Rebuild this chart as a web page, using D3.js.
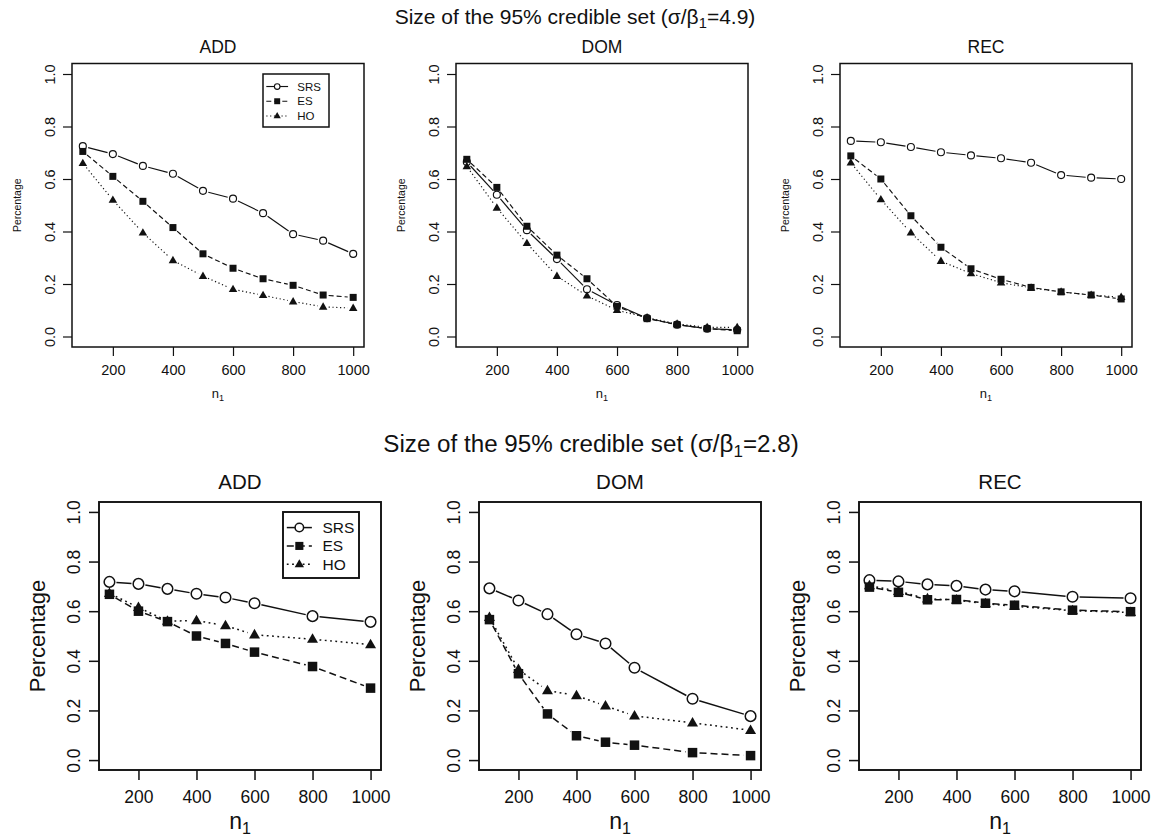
<html>
<head>
<script src="https://d3js.org/d3.v7.min.js"></script>
<style>
  body { margin:0; background:#fff; }
  text { font-family: "Liberation Sans", Arial, Helvetica, sans-serif; fill:#111; }
</style>
</head>
<body>
<svg id="plot"></svg>
<script>

// x values (n1)
var xTop = [100,200,300,400,500,600,700,800,900,1000];
var xBottom = [100,200,300,400,500,600,800,1000];

// sigma/beta1 = 4.9
var topAddSRS = [0.725,0.695,0.65,0.62,0.555,0.525,0.47,0.39,0.365,0.315];
var topAddES  = [0.705,0.61,0.515,0.415,0.315,0.26,0.22,0.195,0.158,0.149];
var topAddHO  = [0.66,0.52,0.395,0.29,0.23,0.18,0.157,0.133,0.113,0.108];

var topDomSRS = [0.665,0.54,0.405,0.295,0.18,0.12,0.07,0.045,0.03,0.025];
var topDomES  = [0.675,0.568,0.42,0.31,0.22,0.115,0.068,0.045,0.03,0.022];
var topDomHO  = [0.648,0.49,0.355,0.23,0.155,0.1,0.072,0.048,0.035,0.035];

var topRecSRS = [0.745,0.74,0.722,0.702,0.69,0.679,0.662,0.615,0.605,0.6];
var topRecES  = [0.688,0.6,0.46,0.34,0.258,0.218,0.187,0.17,0.158,0.143];
var topRecHO  = [0.662,0.522,0.395,0.287,0.24,0.205,0.185,0.17,0.158,0.15];

// sigma/beta1 = 2.8
var botAddSRS = [0.718,0.71,0.69,0.67,0.655,0.632,0.58,0.557];
var botAddES  = [0.668,0.6,0.558,0.5,0.47,0.435,0.377,0.29];
var botAddHO  = [0.672,0.615,0.56,0.562,0.542,0.505,0.487,0.465];

var botDomSRS = [0.692,0.643,0.588,0.507,0.47,0.372,0.247,0.177];
var botDomES  = [0.566,0.348,0.186,0.098,0.072,0.06,0.03,0.018];
var botDomHO  = [0.575,0.365,0.28,0.26,0.218,0.178,0.15,0.12];

var botRecSRS = [0.725,0.72,0.708,0.702,0.687,0.68,0.658,0.652];
var botRecES  = [0.697,0.676,0.646,0.647,0.632,0.624,0.604,0.598];
var botRecHO  = [0.703,0.68,0.65,0.645,0.63,0.62,0.602,0.595];

var seriesNames = ["SRS","ES","HO"];
var panelTitles = ["ADD","DOM","REC"];
var xTicks = [200,400,600,800,1000];
var yTicks = [0,0.2,0.4,0.6,0.8,1.0];

var svg = d3.select("#plot").attr("width",1153).attr("height",836);

// row styles
var rowTop = {
  label:"4.9", titleX:575, titleY:24, titleSize:21,
  tick:14.5, ylab:10.5, ptitle:17.5, xlab:13, tickLen:9,
  r:3.5, sq:7, tri:8.5, lw:1.15, boxW:1.5, gap:5.5,
  dashES:"5,3", dashHO:"1.2,2.6",
  yTickOff:17, yLabOff:51, xTickOff:28, xLabOff:51, ptitleOff:10.5,
  legendFont:11.5
};
var rowBot = {
  label:"2.8", titleX:591, titleY:452, titleSize:24.2,
  tick:17.5, ylab:22, ptitle:20.5, xlab:23, tickLen:10,
  r:5.3, sq:9.5, tri:11, lw:1.5, boxW:1.9, gap:7,
  dashES:"7,4", dashHO:"1.8,3.5",
  yTickOff:19, yLabOff:54, xTickOff:33, xLabOff:59, ptitleOff:13,
  legendFont:15.5
};

var panels = [
  {row:rowTop, title:panelTitles[0], x:xTop, ys:[topAddSRS,topAddES,topAddHO], box:[72,63.5,364,347], legend:[263,74,66,53]},
  {row:rowTop, title:panelTitles[1], x:xTop, ys:[topDomSRS,topDomES,topDomHO], box:[456,63.5,748,347]},
  {row:rowTop, title:panelTitles[2], x:xTop, ys:[topRecSRS,topRecES,topRecHO], box:[840,63.5,1132,347]},
  {row:rowBot, title:panelTitles[0], x:xBottom, ys:[botAddSRS,botAddES,botAddHO], box:[99,502,381,770], legend:[283,512,76,66]},
  {row:rowBot, title:panelTitles[1], x:xBottom, ys:[botDomSRS,botDomES,botDomHO], box:[479,502,761,770]},
  {row:rowBot, title:panelTitles[2], x:xBottom, ys:[botRecSRS,botRecES,botRecHO], box:[859,502,1141,770]}
];

// main titles
[rowTop,rowBot].forEach(function(st){
  var t = svg.append("text")
    .attr("x",st.titleX).attr("y",st.titleY)
    .attr("text-anchor","middle")
    .style("font-size",st.titleSize+"px");
  t.append("tspan").text("Size of the 95% credible set (\u03C3/\u03B2");
  t.append("tspan").text("1").style("font-size",(st.titleSize*0.7)+"px").attr("dy",st.titleSize*0.2);
  t.append("tspan").text("=" + st.label + ")").attr("dy",-st.titleSize*0.2);
});

function marker(g, type, cx, cy, st) {
  if (type === 0) {
    g.append("circle").attr("cx",cx).attr("cy",cy).attr("r",st.r)
      .attr("fill","#fff").attr("stroke","#111").attr("stroke-width",st.lw);
  } else if (type === 1) {
    g.append("rect").attr("x",cx-st.sq/2).attr("y",cy-st.sq/2)
      .attr("width",st.sq).attr("height",st.sq).attr("fill","#111");
  } else {
    var h = st.tri*0.866;
    g.append("path")
      .attr("d","M"+cx+","+(cy-h*0.62)+"L"+(cx+st.tri/2)+","+(cy+h*0.38)+"L"+(cx-st.tri/2)+","+(cy+h*0.38)+"Z")
      .attr("fill","#111");
  }
}

function dashOf(type, st) {
  if (type === 0) return null;
  if (type === 1) return st.dashES;
  return st.dashHO;
}

panels.forEach(function(p){
  var st = p.row;
  var b = p.box;
  var xScale = d3.scaleLinear().domain([64,1036]).range([b[0],b[2]]);
  var yScale = d3.scaleLinear().domain([-0.04,1.04]).range([b[3],b[1]]);
  var g = svg.append("g");

  // axes
  var xAxis = d3.axisBottom(xScale).tickValues(xTicks).tickSize(st.tickLen).tickFormat(d3.format("d"));
  var ax = g.append("g").attr("transform","translate(0,"+b[3]+")").call(xAxis);
  ax.select(".domain").remove();
  ax.selectAll(".tick line").attr("stroke","#111").attr("stroke-width",st.boxW*0.8);
  ax.selectAll(".tick text").attr("y",st.xTickOff).attr("dy",null)
    .style("font-size",st.tick+"px").style("font-family",null).attr("fill","#111");

  var yAxis = d3.axisLeft(yScale).tickValues(yTicks).tickSize(st.tickLen).tickFormat(d3.format(".1f"));
  var ay = g.append("g").attr("transform","translate("+b[0]+",0)").call(yAxis);
  ay.select(".domain").remove();
  ay.selectAll(".tick line").attr("stroke","#111").attr("stroke-width",st.boxW*0.8);
  ay.selectAll(".tick text")
    .attr("x",null).attr("dy",null)
    .attr("text-anchor","middle")
    .attr("transform","translate("+(-st.yTickOff)+",0) rotate(-90)")
    .style("font-size",st.tick+"px").style("font-family",null).attr("fill","#111");

  // box
  g.append("rect").attr("x",b[0]).attr("y",b[1])
    .attr("width",b[2]-b[0]).attr("height",b[3]-b[1])
    .attr("fill","none").attr("stroke","#111").attr("stroke-width",st.boxW);

  // labels
  g.append("text").text(p.title)
    .attr("x",(b[0]+b[2])/2).attr("y",b[1]-st.ptitleOff)
    .attr("text-anchor","middle").style("font-size",st.ptitle+"px");

  g.append("text").text("Percentage")
    .attr("text-anchor","middle")
    .attr("transform","translate("+(b[0]-st.yLabOff)+","+((b[1]+b[3])/2)+") rotate(-90)")
    .style("font-size",st.ylab+"px");

  var nl = g.append("text")
    .attr("x",(b[0]+b[2])/2).attr("y",b[3]+st.xLabOff)
    .attr("text-anchor","middle").style("font-size",st.xlab+"px");
  nl.append("tspan").text("n");
  nl.append("tspan").text("1").style("font-size",(st.xlab*0.7)+"px").attr("dy",st.xlab*0.22);

  // series, drawn like R type="b": segments with gaps around points
  p.ys.forEach(function(vals, si){
    var pts = vals.map(function(v,i){ return [xScale(p.x[i]), yScale(v)]; });
    var lines = g.append("g").attr("fill","none").attr("stroke","#111")
      .attr("stroke-width",st.lw).attr("stroke-dasharray",dashOf(si,st));
    for (var i = 0; i < pts.length-1; i++) {
      var a = pts[i], c = pts[i+1];
      var dx = c[0]-a[0], dy = c[1]-a[1];
      var len = Math.sqrt(dx*dx+dy*dy);
      if (len <= 2*st.gap) continue;
      var ux = dx/len, uy = dy/len;
      lines.append("line")
        .attr("x1",a[0]+ux*st.gap).attr("y1",a[1]+uy*st.gap)
        .attr("x2",c[0]-ux*st.gap).attr("y2",c[1]-uy*st.gap);
    }
    var mk = g.append("g");
    pts.forEach(function(pt){ marker(mk, si, pt[0], pt[1], st); });
  });

  // legend
  if (p.legend) {
    var L = p.legend;
    var lg = g.append("g");
    lg.append("rect").attr("x",L[0]).attr("y",L[1]).attr("width",L[2]).attr("height",L[3])
      .attr("fill","#fff").attr("stroke","#111").attr("stroke-width",st.boxW);
    var step = L[3]/3.6;
    seriesNames.forEach(function(name, si){
      var cy = L[1] + step*(si+0.85);
      var x0 = L[0] + L[2]*0.05, x1 = L[0] + L[2]*0.38, xm = (x0+x1)/2;
      lg.append("line").attr("x1",x0).attr("x2",x1).attr("y1",cy).attr("y2",cy)
        .attr("stroke","#111").attr("stroke-width",st.lw).attr("stroke-dasharray",dashOf(si,st));
      marker(lg, si, xm, cy, {r:st.r*0.8, sq:st.sq*0.85, tri:st.tri*0.85, lw:st.lw});
      lg.append("text").text(name)
        .attr("x",L[0]+L[2]*0.52).attr("y",cy+st.legendFont*0.36)
        .style("font-size",st.legendFont+"px");
    });
  }
});

</script>
</body>
</html>
